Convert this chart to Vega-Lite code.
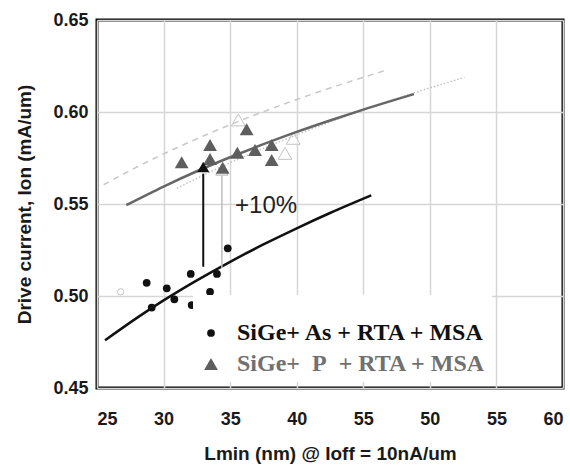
{
  "$schema": "https://vega.github.io/schema/vega-lite/v6.json",
  "width": 466,
  "height": 368,
  "autosize": "none",
  "padding": {"left": 97, "top": 20, "right": 7, "bottom": 83},
  "background": "white",
  "config": {
    "view": {"stroke": "black", "strokeWidth": 3},
    "axis": {
      "labelFont": "Liberation Sans",
      "labelFontWeight": "bold",
      "labelFontSize": 18,
      "labelColor": "#1a1a1a",
      "titleFont": "Liberation Sans",
      "titleFontWeight": "bold",
      "titleFontSize": 19,
      "titleColor": "#1a1a1a",
      "domain": false,
      "ticks": false,
      "gridColor": "#d6d6d6",
      "gridWidth": 1.5
    },
    "legend": {
      "orient": "none",
      "legendX": 96,
      "legendY": 275,
      "fillColor": "white",
      "padding": 6,
      "titleFontSize": 4,
      "titlePadding": 16,
      "labelFont": "Liberation Serif",
      "labelFontSize": 24,
      "labelFontWeight": "bold",
      "labelLimit": 400,
      "labelOffset": 14,
      "rowPadding": 7,
      "symbolStrokeWidth": 0
    }
  },
  "datasets": {
    "asFit": [
      {"x": 25.6, "y": 0.4759}, {"x": 28, "y": 0.4881}, {"x": 30, "y": 0.4976},
      {"x": 32.5, "y": 0.5085}, {"x": 35, "y": 0.5186}, {"x": 37.5, "y": 0.528},
      {"x": 40, "y": 0.5368}, {"x": 42.5, "y": 0.5451}, {"x": 45.6, "y": 0.5547}
    ],
    "pFit": [
      {"x": 27.2, "y": 0.5494}, {"x": 30, "y": 0.5595}, {"x": 32.5, "y": 0.5678},
      {"x": 35, "y": 0.5754}, {"x": 37.5, "y": 0.5825}, {"x": 40, "y": 0.5892},
      {"x": 42.5, "y": 0.5954}, {"x": 45, "y": 0.6013}, {"x": 48.8, "y": 0.6097}
    ],
    "dashFit": [
      {"x": 25.5, "y": 0.5605}, {"x": 28, "y": 0.5701}, {"x": 31, "y": 0.5806},
      {"x": 34, "y": 0.5901}, {"x": 37, "y": 0.5988}, {"x": 40, "y": 0.6068},
      {"x": 43, "y": 0.6142}, {"x": 46.8, "y": 0.6229}
    ],
    "dotFit": [
      {"x": 31, "y": 0.5586}, {"x": 34, "y": 0.5691}, {"x": 37, "y": 0.5787},
      {"x": 40, "y": 0.5876}, {"x": 43, "y": 0.5959}, {"x": 46, "y": 0.6036},
      {"x": 49, "y": 0.6108}, {"x": 52.6, "y": 0.6188}
    ],
    "points": [
      {"series": "SiGe+ As + RTA + MSA", "x": 28.73, "y": 0.5072},
      {"series": "SiGe+ As + RTA + MSA", "x": 29.11, "y": 0.4937},
      {"series": "SiGe+ As + RTA + MSA", "x": 30.24, "y": 0.5042},
      {"series": "SiGe+ As + RTA + MSA", "x": 30.81, "y": 0.4982},
      {"series": "SiGe+ As + RTA + MSA", "x": 32.04, "y": 0.512},
      {"series": "SiGe+ As + RTA + MSA", "x": 32.11, "y": 0.4951},
      {"series": "SiGe+ As + RTA + MSA", "x": 33.49, "y": 0.5023},
      {"series": "SiGe+ As + RTA + MSA", "x": 34.01, "y": 0.512},
      {"series": "SiGe+ As + RTA + MSA", "x": 34.82, "y": 0.5259},
      {"series": "SiGe+\u00a0 P\u00a0 + RTA + MSA", "x": 31.36, "y": 0.5727},
      {"series": "SiGe+\u00a0 P\u00a0 + RTA + MSA", "x": 33.49, "y": 0.5821},
      {"series": "SiGe+\u00a0 P\u00a0 + RTA + MSA", "x": 33.49, "y": 0.5745},
      {"series": "SiGe+\u00a0 P\u00a0 + RTA + MSA", "x": 34.44, "y": 0.5697},
      {"series": "SiGe+\u00a0 P\u00a0 + RTA + MSA", "x": 35.54, "y": 0.5779},
      {"series": "SiGe+\u00a0 P\u00a0 + RTA + MSA", "x": 36.24, "y": 0.5906},
      {"series": "SiGe+\u00a0 P\u00a0 + RTA + MSA", "x": 36.87, "y": 0.5793},
      {"series": "SiGe+\u00a0 P\u00a0 + RTA + MSA", "x": 38.12, "y": 0.5821},
      {"series": "SiGe+\u00a0 P\u00a0 + RTA + MSA", "x": 38.12, "y": 0.5739}
    ],
    "ghost": [
      {"kind": "circle", "x": 26.78, "y": 0.5023},
      {"kind": "triangle-up", "x": 35.61, "y": 0.5957},
      {"kind": "triangle-up", "x": 39.74, "y": 0.5857},
      {"kind": "triangle-up", "x": 39.12, "y": 0.5775}
    ],
    "arrows": [
      {"arrow": "solid", "x": 32.98, "y": 0.5159, "y2": 0.5665, "head": 0.5701},
      {"arrow": "ghost", "x": 34.38, "y": 0.5152, "y2": 0.5655, "head": 0.5686}
    ],
    "notes": [
      {"label": "+10%", "x": 35.37, "y": 0.5451}
    ]
  },
  "encoding": {
    "x": {
      "field": "x", "type": "quantitative",
      "scale": {"domain": [25, 60], "nice": false, "zero": false},
      "axis": {
        "values": [25, 30, 35, 40, 45, 50, 55, 60],
        "labelExpr": "datum.value > 44 && datum.value < 46 ? '55' : datum.label",
        "labelPadding": 22,
        "title": "Lmin (nm) @ Ioff = 10nA/um",
        "titlePadding": 16
      }
    },
    "y": {
      "field": "y", "type": "quantitative",
      "scale": {"domain": [0.45, 0.65], "nice": false, "zero": false},
      "axis": {
        "values": [0.45, 0.5, 0.55, 0.6, 0.65],
        "format": ".2f",
        "labelPadding": 9,
        "title": "Drive current, Ion (mA/um)",
        "titlePadding": 18
      }
    }
  },
  "layer": [
    {
      "data": {"name": "ghost"},
      "mark": {"type": "point", "filled": false, "stroke": "#c4c4c4", "strokeWidth": 1, "fill": "white", "fillOpacity": 0.6},
      "encoding": {
        "shape": {"field": "kind", "type": "nominal", "scale": {"domain": ["circle", "triangle-up"], "range": ["circle", "triangle-up"]}, "legend": null},
        "size": {"field": "kind", "type": "nominal", "scale": {"domain": ["circle", "triangle-up"], "range": [40, 190]}, "legend": null}
      }
    },
    {
      "data": {"name": "dashFit"},
      "mark": {"type": "line", "color": "#c8c8c8", "strokeWidth": 1.5, "strokeDash": [6, 5], "interpolate": "monotone"},
      "encoding": {}
    },
    {
      "data": {"name": "dotFit"},
      "mark": {"type": "line", "color": "#c2c2c2", "strokeWidth": 1.5, "strokeDash": [1.5, 2], "interpolate": "monotone"},
      "encoding": {}
    },
    {
      "data": {"name": "pFit"},
      "mark": {"type": "line", "color": "#666666", "strokeWidth": 2.5, "interpolate": "monotone"},
      "encoding": {}
    },
    {
      "data": {"name": "asFit"},
      "mark": {"type": "line", "color": "#111111", "strokeWidth": 2.5, "interpolate": "monotone"},
      "encoding": {}
    },
    {
      "data": {"name": "arrows"},
      "transform": [{"filter": "datum.arrow == 'ghost'"}],
      "layer": [
        {
          "mark": {"type": "rule", "color": "#bdbdbd", "strokeWidth": 1.5},
          "encoding": {"y2": {"field": "y2"}}
        },
        {
          "mark": {"type": "point", "shape": "triangle-up", "filled": false, "fill": "white", "fillOpacity": 1, "stroke": "#b0b0b0", "strokeWidth": 1, "size": 150},
          "encoding": {"y": {"field": "head", "type": "quantitative"}}
        }
      ]
    },
    {
      "data": {"name": "points"},
      "mark": {"type": "point", "filled": true, "opacity": 1, "strokeWidth": 0},
      "encoding": {
        "shape": {"field": "series", "type": "nominal", "scale": {"domain": ["SiGe+ As + RTA + MSA", "SiGe+\u00a0 P\u00a0 + RTA + MSA"], "range": ["circle", "triangle-up"]},
          "legend": {"title": "\u00a0", "labelColor": {"expr": "datum.value == 'SiGe+ As + RTA + MSA' ? '#111111' : '#707070'"}}},
        "color": {"field": "series", "type": "nominal", "scale": {"domain": ["SiGe+ As + RTA + MSA", "SiGe+\u00a0 P\u00a0 + RTA + MSA"], "range": ["#111111", "#5e5e5e"]},
          "legend": {"title": "\u00a0", "labelColor": {"expr": "datum.value == 'SiGe+ As + RTA + MSA' ? '#111111' : '#707070'"}}},
        "size": {"field": "series", "type": "nominal", "scale": {"domain": ["SiGe+ As + RTA + MSA", "SiGe+\u00a0 P\u00a0 + RTA + MSA"], "range": [60, 190]},
          "legend": {"title": "\u00a0", "labelColor": {"expr": "datum.value == 'SiGe+ As + RTA + MSA' ? '#111111' : '#707070'"}}}
      }
    },
    {
      "data": {"name": "arrows"},
      "transform": [{"filter": "datum.arrow == 'solid'"}],
      "layer": [
        {
          "mark": {"type": "rule", "color": "#111111", "strokeWidth": 2},
          "encoding": {"y2": {"field": "y2"}}
        },
        {
          "mark": {"type": "point", "shape": "triangle-up", "filled": true, "color": "#111111", "opacity": 1, "size": 150},
          "encoding": {"y": {"field": "head", "type": "quantitative"}}
        }
      ]
    },
    {
      "data": {"name": "notes"},
      "mark": {"type": "text", "font": "Liberation Sans", "fontSize": 24, "align": "left", "baseline": "alphabetic", "color": "#222222"},
      "encoding": {"text": {"field": "label"}}
    }
  ],
  "resolve": {"scale": {"shape": "independent", "size": "independent", "color": "independent"}}
}
